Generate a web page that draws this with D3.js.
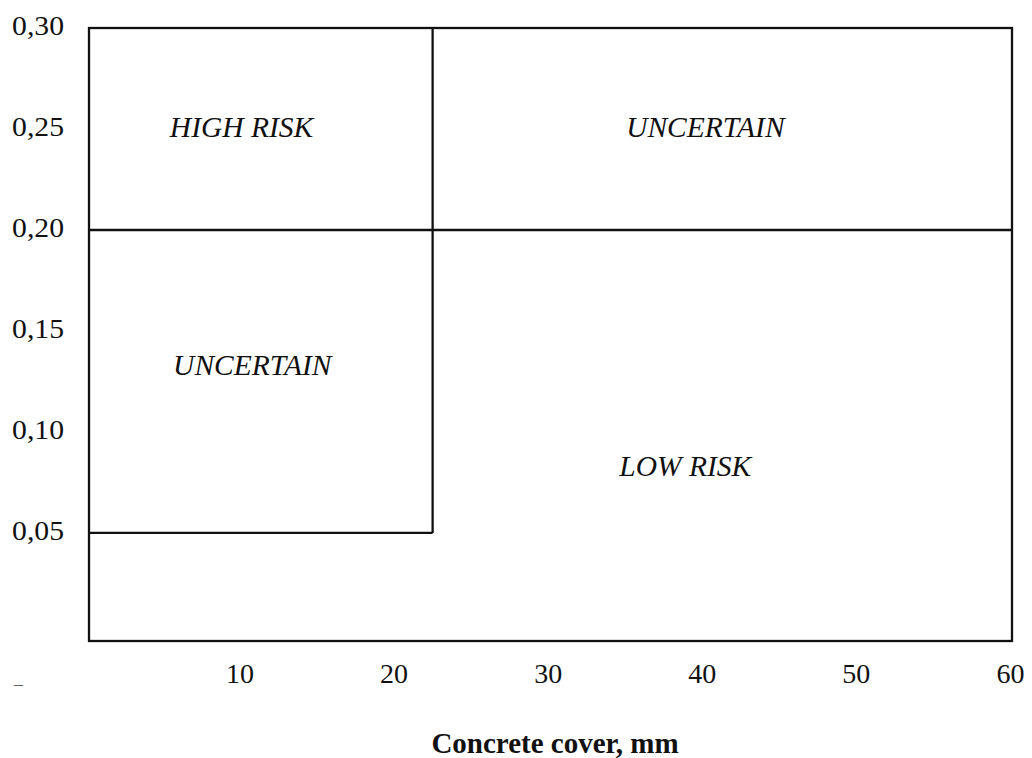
<!DOCTYPE html>
<html><head><meta charset="utf-8">
<script src="https://cdn.jsdelivr.net/npm/d3@7"></script>
<style>body{margin:0;background:#fff}svg{display:block}</style>
</head><body>
<svg id="c" width="1032" height="758"></svg>
<script>
// Data
const xTicks = [10, 20, 30, 40, 50, 60];
const yTicks = [0.05, 0.10, 0.15, 0.20, 0.25, 0.30];
const xDomain = [0.2, 60.1];
const yDomain = [-0.0035, 0.30];
// Zone boundaries (concrete cover mm, chloride content)
const coverLimit = 22.5;
const highLimit = 0.20;
const lowLimit = 0.05;
const regionNames = ["HIGH RISK", "UNCERTAIN", "UNCERTAIN", "LOW RISK"];
const regionX = [10.1, 40.2, 10.8, 38.9];
const regionY = [0.251, 0.251, 0.133, 0.083];
const xTitle = "Concrete cover, mm";

const svg = d3.select("#c");
const x = d3.scaleLinear().domain(xDomain).range([89, 1012]);
const y = d3.scaleLinear().domain(yDomain).range([641, 28]);
const ink = "#111";

function txt(px, py, s, size, opts = {}) {
  const t = svg.append("text")
    .attr("transform", `translate(${px},${py}) scale(${opts.sx || 1},1)`)
    .attr("font-family", "'Liberation Serif','Times New Roman',serif")
    .attr("font-size", size)
    .attr("fill", ink)
    .attr("text-anchor", opts.anchor || "middle")
    .attr("dominant-baseline", "central")
    .text(s);
  if (opts.italic) t.attr("font-style", "italic");
  if (opts.bold) t.attr("font-weight", "bold");
  return t;
}

// Frame
svg.append("rect")
  .attr("x", x(xDomain[0])).attr("y", y(yDomain[1]))
  .attr("width", x(xDomain[1]) - x(xDomain[0]))
  .attr("height", y(yDomain[0]) - y(yDomain[1]))
  .attr("fill", "none").attr("stroke", ink).attr("stroke-width", 2.3);

// Boundaries
const segs = [
  [[xDomain[0], highLimit], [xDomain[1], highLimit]],
  [[coverLimit, yDomain[1]], [coverLimit, lowLimit]],
  [[xDomain[0], lowLimit], [coverLimit, lowLimit]]
];
const line = d3.line().x(d => x(d[0])).y(d => y(d[1]));
svg.selectAll("path.seg").data(segs).enter().append("path")
  .attr("class", "seg").attr("d", line)
  .attr("fill", "none").attr("stroke", ink).attr("stroke-width", 2.3);

// Y tick labels
const fmt = v => d3.format(".2f")(v).replace(".", ",");
yTicks.forEach(v => txt(64, y(v) - 2, fmt(v), 27, {anchor: "end", sx: 1.1}));
// X tick labels
xTicks.forEach(v => txt(x(v), 673, String(v), 28));

// Region labels
regionNames.forEach((n, i) => txt(x(regionX[i]), y(regionY[i]), n, 29.5, {italic: true}));

// Axis title
txt(555, 743, xTitle, 29, {bold: true});
// small stray mark
svg.append("text").attr("x", 14).attr("y", 690).attr("font-size", 18)
  .attr("font-family", "'Liberation Serif',serif").attr("fill", "#666").text("–");
</script>
</body></html>
